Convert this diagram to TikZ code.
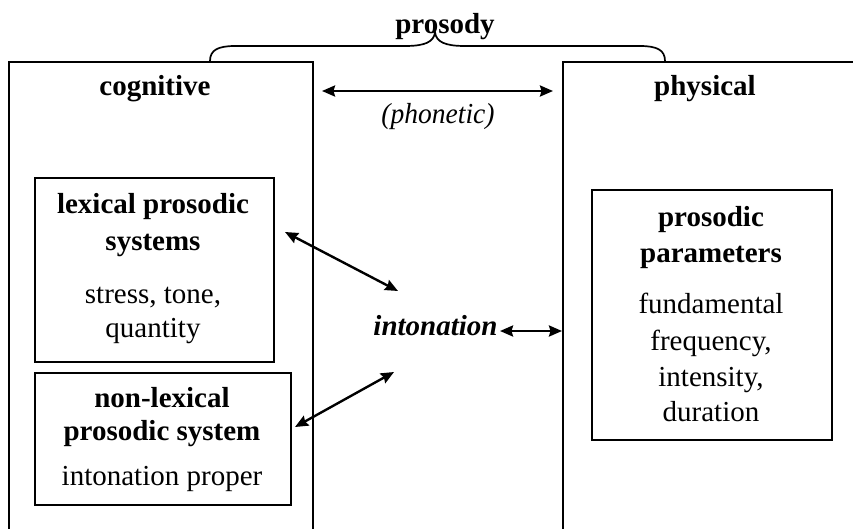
\documentclass[tikz,border=0pt]{standalone}
\usepackage{fontspec}
\setmainfont{Liberation Serif}[ItalicFeatures={FakeStretch=0.95}]
\usetikzlibrary{arrows.meta}
\tikzset{
  box/.style={draw, line width=1.9pt, inner sep=0pt},
  lbl/.style={anchor=base, inner sep=0pt, font=\fontsize{29}{33}\selectfont},
  hd/.style={anchor=base, inner sep=0pt, font=\fontsize{29}{33}\selectfont\bfseries},
  arr/.style={line width=2.4pt, {Stealth[length=13pt,width=11pt,inset=1.5pt]}-{Stealth[length=13pt,width=11pt,inset=1.5pt]}},
  brace/.style={line width=1.7pt}
}
\begin{document}
\begin{tikzpicture}[x=1pt,y=-1pt]
\useasboundingbox (0,0) rectangle (853,528);
\clip (0,0) rectangle (853,528);
% big boxes
\node[box, minimum width=304pt, minimum height=500pt, anchor=north west] (cog) at (8,61) {};
\node[box, minimum width=300pt, minimum height=500pt, anchor=north west] (phys) at (562,61) {};
% inner boxes
\node[box, minimum width=239pt, minimum height=184pt, anchor=north west] (lex) at (34,177) {};
\node[box, minimum width=256pt, minimum height=132pt, anchor=north west] (nonlex) at (34,372) {};
\node[box, minimum width=240pt, minimum height=250pt, anchor=north west] (par) at (591,189) {};
% titles
\node[hd] (prosody) at (445,33) {prosody};
\node[hd] (cogt) at (155,95) {cognitive};
\node[hd] (physt) at (705,95) {physical};
\node[lbl, font=\fontsize{29}{33}\selectfont\itshape] (phon) at (438,123) {(phonetic)};
\node[lbl, font=\fontsize{29}{33}\selectfont\bfseries\itshape] (into) at (435.5,335) {intonation};
% lexical box text
\node[hd] (lex1) at (153,213) {lexical prosodic};
\node[hd] (lex2) at (153,250) {systems};
\node[lbl] (lex3) at (153,303) {stress, tone,};
\node[lbl] (lex4) at (153,337) {quantity};
% non-lexical box text
\node[hd] (nl1) at (162,407) {non-lexical};
\node[hd] (nl2) at (162,440) {prosodic system};
\node[lbl] (nl3) at (162,485) {intonation proper};
% parameters box text
\node[hd] (p1) at (711,226) {prosodic};
\node[hd] (p2) at (711,262) {parameters};
\node[lbl] (p3) at (711,313) {fundamental};
\node[lbl] (p4) at (711,350) {frequency,};
\node[lbl] (p5) at (711,386) {intensity,};
\node[lbl] (p6) at (711,421) {duration};
% brace
\coordinate (brL) at (210,61);
\coordinate (brR) at (665,61);
\coordinate (brT) at (435,32);
\draw[brace] (brL) .. controls (210,50) and (218,46) .. (235,46) -- (405,46)
  .. controls (425,46) and (434,42) .. (brT)
  .. controls (436,42) and (445,46) .. (465,46) -- (640,46)
  .. controls (657,46) and (665,50) .. (brR);
% arrows
\coordinate (pa) at (322,91);
\coordinate (pb) at (553,91);
\draw[arr] (pa) -- (pb);
\coordinate (ia) at (500,331);
\draw[arr] (ia) -- (ia -| phys.west);
\coordinate (a1) at (285,232);
\coordinate (b1) at (398,291);
\draw[arr] (a1) -- (b1);
\coordinate (a2) at (394,372);
\coordinate (b2) at (295,427);
\draw[arr] (a2) -- (b2);
\end{tikzpicture}
\end{document}
